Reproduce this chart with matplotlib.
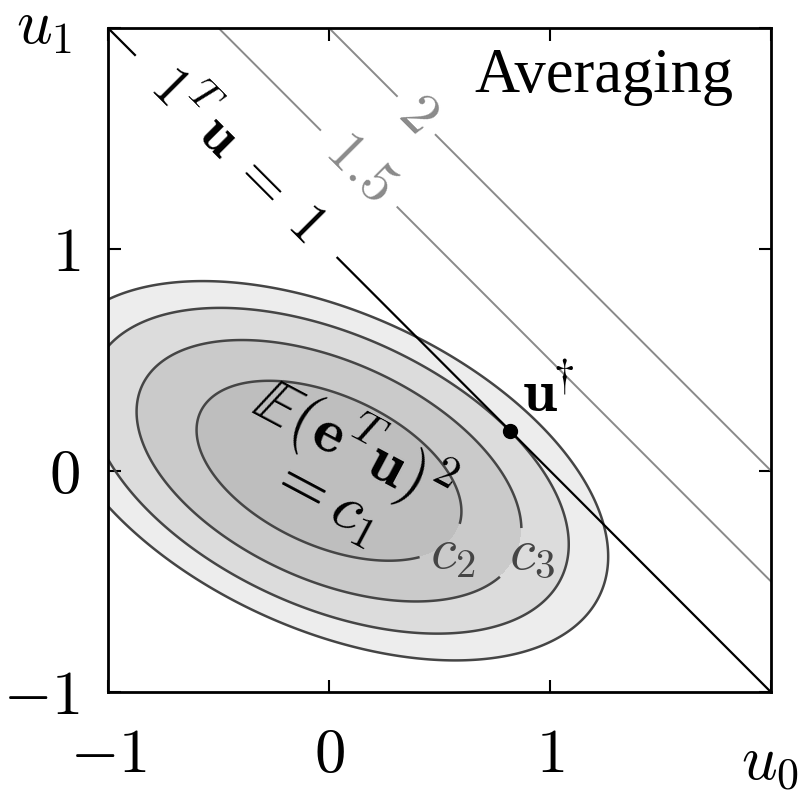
import numpy as np
import matplotlib
matplotlib.use("Agg")
import matplotlib.pyplot as plt

plt.rcParams['mathtext.fontset'] = 'cm'
plt.rcParams['font.family'] = ['Liberation Serif', 'DejaVu Serif']

# error covariance, E(e^T u)^2 = u^T S u
sigma = np.array([[1.26, 0.84],
                  [0.84, 2.74]])
ellipse_levels = [0.36, 0.76, 1.18, 1.60]
ellipse_fills = ['#bebebe', '#cacaca', '#dcdcdc', '#ededed']
ellipse_labels = {0.36: r'$c_2$', 0.76: r'$c_3$'}

sum_levels = [1.0, 1.5, 2.0]
sum_colors = ['black', '#8a8a8a', '#8a8a8a']
sum_widths = [1.6, 1.4, 1.4]
sum_labels = [r'$\mathbf{1}^T\,\mathbf{u}\;=\;1$', r'$1.5$', r'$2$']
sum_label_at = [(-0.42, 1.42), (0.13, 1.36), (0.39, 1.60)]

ticks = [-1, 0, 1, 2]
tick_labels = [r'$-1$', r'$0$', r'$1$', '']

# grid
x = np.linspace(-1.3, 2.3, 700)
U0, U1 = np.meshgrid(x, x)
Q = sigma[0, 0] * U0**2 + 2 * sigma[0, 1] * U0 * U1 + sigma[1, 1] * U1**2
S = U0 + U1

# optimum on 1^T u = 1
w = np.linalg.solve(sigma, np.ones(2))
ustar = w / w.sum()

fig = plt.figure(figsize=(8.09, 7.91), dpi=100)
ax = fig.add_axes([0.1335, 0.125, 0.8195, 0.8396])

ax.contourf(U0, U1, Q, levels=[0] + ellipse_levels, colors=ellipse_fills)
cs = ax.contour(U0, U1, Q, levels=ellipse_levels, colors='#454545', linewidths=1.8)
elabs = ax.clabel(cs, levels=[0.36, 0.76], fmt=ellipse_labels, manual=[(0.56, -0.39), (0.96, -0.43)],
                  inline=True, inline_spacing=0, fontsize=42)
# labels sit just to the right of the gap, upright
for t, dx, dy in zip(elabs, [0.04, 0.07], [-0.04, 0.0]):
    t.set_rotation(0)
    px, py = t.get_position()
    t.set_position((px + dx, py + dy))

for lev, col, lw, lab, pos in zip(sum_levels, sum_colors, sum_widths, sum_labels, sum_label_at):
    ls = ax.contour(U0, U1, S, levels=[lev], colors=col, linewidths=lw)
    ax.clabel(ls, fmt={lev: lab}, manual=[pos], inline=True, inline_spacing=8, fontsize=42)

ax.plot(ustar[0], ustar[1], 'o', color='black', ms=10)
ax.text(0.873, 0.265, r'$\mathbf{u}^{\!\!\dagger}$', fontsize=44, ha='left', va='baseline')

ax.text(0.05, 0.01, r'$\mathbb{E}(\mathbf{e}^T\mathbf{u})^2$' + '\n' + r'$= c_1$',
        fontsize=46, rotation=-28, ha='center', va='center', multialignment='center',
        rotation_mode='anchor', linespacing=0.85)

ax.text(0.943, 0.904, 'Averaging', transform=ax.transAxes, ha='right', va='baseline',
        fontsize=45)

ax.set_xlim(-1, 2)
ax.set_ylim(-1, 2)
ax.set_xticks(ticks)
ax.set_yticks(ticks)
ax.set_xticklabels(tick_labels)
ax.set_yticklabels(tick_labels)
ax.tick_params(direction='in', top=True, right=True, length=9, width=1.5, labelsize=45)
ax.tick_params(axis='x', pad=26)
ax.tick_params(axis='y', pad=20)
for sp in ax.spines.values():
    sp.set_linewidth(2)

ax.text(0.998, -0.13, r'$u_0$', transform=ax.transAxes, ha='center', va='baseline', fontsize=45)
ax.text(-0.096, 0.977, r'$u_1$', transform=ax.transAxes, ha='center', va='baseline', fontsize=45)

fig.savefig('out.png', dpi=100)
